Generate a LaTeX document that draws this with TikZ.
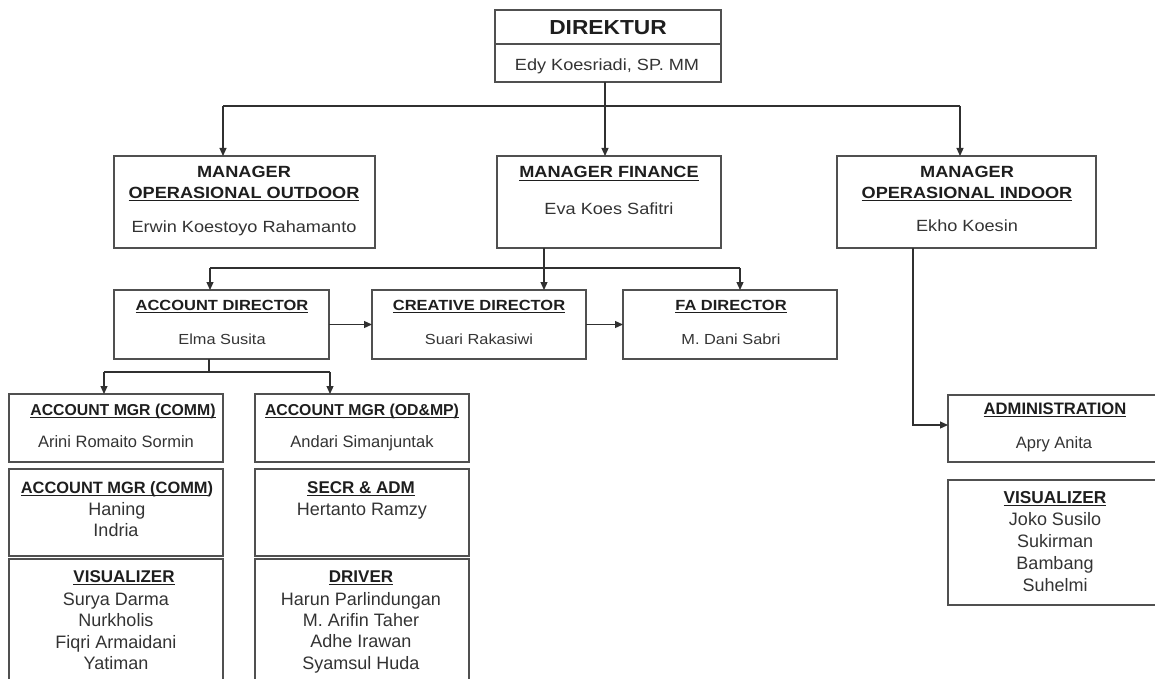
\documentclass[tikz,border=0pt]{standalone}
\usepackage{fontspec}
\setmainfont{Liberation Sans}
\newfontfamily\widefam{Liberation Sans}[FakeStretch=1.12]
\usetikzlibrary{arrows.meta}
\definecolor{boxc}{HTML}{505050}
\definecolor{linec}{HTML}{303030}
\definecolor{txtc}{HTML}{1E1E1E}
\definecolor{namec}{HTML}{333333}
\newcommand\myul[1]{\leavevmode\setbox0=\hbox{#1}\rlap{\vrule width\wd0 height -1.8pt depth 3.2pt}\box0}
\newcommand\mybox[5]{\node[box,minimum width={#4-#2},minimum height={#5-#3}] (#1) at ({(#2+#4)/2},{(#3+#5)/2}) {};}
\begin{document}
\begin{tikzpicture}[x=1pt,y=-1pt,
  box/.style={draw=boxc,line width=1.4pt,inner sep=0pt,outer sep=0pt},
  txt/.style={anchor=base,inner sep=0pt,outer sep=0pt,text=txtc},
  nm/.style={anchor=base,inner sep=0pt,outer sep=0pt,text=namec},
  fDir/.style={font=\widefam\bfseries\fontsize{20.3}{24}\selectfont},
  fDirN/.style={font=\widefam\fontsize{16.2}{19}\selectfont},
  fMgr/.style={font=\widefam\bfseries\fontsize{16.2}{19}\selectfont},
  fMgrN/.style={font=\widefam\fontsize{16.2}{19}\selectfont},
  fDt/.style={font=\widefam\bfseries\fontsize{14.7}{17}\selectfont},
  fDn/.style={font=\widefam\fontsize{14.6}{17}\selectfont},
  fLt/.style={font=\bfseries\fontsize{15.8}{19}\selectfont},
  fLn/.style={font=\fontsize{16.5}{19}\selectfont},
  fBt/.style={font=\bfseries\fontsize{17}{20}\selectfont},
  fBn/.style={font=\fontsize{18}{21}\selectfont},
  ln/.style={draw=linec,line width=1.2pt},
  arr/.style={draw=linec,line width=1.2pt,-{Triangle[length=8pt,width=7pt]}}]
\useasboundingbox (0,0) rectangle (1155,679);
% boxes
\mybox{dirT}{495}{10}{721}{44}
\mybox{dirN}{495}{44}{721}{82}
\mybox{out}{114}{156}{375}{248}
\mybox{fin}{497}{156}{721}{248}
\mybox{ind}{837}{156}{1096}{248}
\mybox{acc}{114}{290}{329}{359}
\mybox{cre}{372}{290}{586}{359}
\mybox{fa}{623}{290}{837}{359}
\mybox{amc}{9}{394}{223}{462}
\mybox{amo}{255}{394}{469}{462}
\mybox{amc2}{9}{469}{223}{556}
\mybox{sec}{255}{469}{469}{556}
\mybox{vis}{9}{559}{223}{700}
\mybox{drv}{255}{559}{469}{700}
\mybox{adm}{948}{395}{1162}{462}
\mybox{vis2}{948}{480}{1162}{605}
% texts
\node[txt,fDir] (tDir) at (608,35) {DIREKTUR};
\node[nm,fDirN] (nDir) at (607,71) {Edy Koesriadi, SP. MM};
\node[txt,fMgr] (tOut1) at (244,177) {MANAGER};
\node[txt,fMgr] (tOut2) at (244,198) {\myul{OPERASIONAL OUTDOOR}};
\node[nm,fMgrN] (nOut) at (244,232) {Erwin Koestoyo Rahamanto};
\node[txt,fMgr] (tFin) at (609,178) {\myul{MANAGER FINANCE}};
\node[nm,fMgrN] (nFin) at (609,214) {Eva Koes Safitri};
\node[txt,fMgr] (tInd1) at (967,177) {MANAGER};
\node[txt,fMgr] (tInd2) at (967,198) {\myul{OPERASIONAL INDOOR}};
\node[nm,fMgrN] (nInd) at (967,231) {Ekho Koesin};
\node[txt,fDt] (tAcc) at (222,310) {\myul{ACCOUNT DIRECTOR}};
\node[nm,fDn] (nAcc) at (222,344) {Elma Susita};
\node[txt,fDt] (tCre) at (479,310) {\myul{CREATIVE DIRECTOR}};
\node[nm,fDn] (nCre) at (479,344) {Suari Rakasiwi};
\node[txt,fDt] (tFa) at (731,310) {\myul{FA DIRECTOR}};
\node[nm,fDn] (nFa) at (731,344) {M. Dani Sabri};
% lower left column
\node[txt,fLt] (tAmc) at (123,415) {\myul{ACCOUNT MGR (COMM)}};
\node[nm,fLn] (nAmc) at (116,447) {Arini Romaito Sormin};
\node[txt,fBt,font=\bfseries\fontsize{16.4}{20}\selectfont] (tAmc2) at (117,493) {\myul{ACCOUNT MGR (COMM}{)}};
\node[nm,fBn] (nAmc2a) at (117,515) {Haning};
\node[nm,fBn] (nAmc2b) at (116,536) {Indria};
\node[txt,fBt] (tVis) at (124,582) {\myul{VISUALIZER}};
\foreach \t [count=\i] in {Surya Darma, Nurkholis, Fiqri Armaidani, Yatiman}
  \node[nm,fBn] (nVis\i) at (116,{584.5+21.2*\i}) {\t};
% lower right column
\node[txt,fLt] (tAmo) at (362,415) {\myul{ACCOUNT MGR (OD\&MP)}};
\node[nm,fLn] (nAmo) at (362,447) {Andari Simanjuntak};
\node[txt,fBt] (tSec) at (361,493) {\myul{SECR \& ADM}};
\node[nm,fBn] (nSec) at (362,515) {Hertanto Ramzy};
\node[txt,fBt] (tDrv) at (361,582) {\myul{DRIVER}};
\foreach \t [count=\i] in {Harun Parlindungan, M. Arifin Taher, Adhe Irawan, Syamsul Huda}
  \node[nm,fBn] (nDrv\i) at (361,{584+21.3*\i}) {\t};
% right side
\node[txt,fLt,font=\bfseries\fontsize{16.6}{20}\selectfont] (tAdm) at (1055,414) {\myul{ADMINISTRATION}};
\node[nm,fLn] (nAdm) at (1054,448) {Apry Anita};
\node[txt,fBt,font=\bfseries\fontsize{17.3}{20}\selectfont] (tVis2) at (1055,503) {\myul{VISUALIZER}};
\foreach \t [count=\i] in {Joko Susilo, Sukirman, Bambang, Suhelmi}
  \node[nm,fBn] (nVisR\i) at (1055,{503.5+21.9*\i}) {\t};
% connectors
\coordinate (j0) at (605,106);
\coordinate (jL) at (223,106);
\coordinate (jR) at (960,106);
\draw[ln] (jL) -- (jR);
\draw[arr] (dirN.south -| j0) -- (j0 |- fin.north);
\draw[arr] (jL) -- (jL |- out.north);
\draw[arr] (jR) -- (jR |- ind.north);
\coordinate (k0) at (544,268);
\coordinate (kL) at (210,268);
\coordinate (kR) at (740,268);
\draw[ln] (kL) -- (kR);
\draw[arr] (fin.south -| k0) -- (k0 |- cre.north);
\draw[arr] (kL) -- (kL |- acc.north);
\draw[arr] (kR) -- (kR |- fa.north);
\draw[arr] (acc.east) -- (cre.west);
\draw[arr] (cre.east) -- (fa.west);
\coordinate (a0) at (209,372);
\coordinate (aL) at (104,372);
\coordinate (aR) at (330,372);
\draw[ln] (acc.south -| a0) -- (a0);
\draw[ln] (aL) -- (aR);
\draw[arr] (aL) -- (aL |- amc.north);
\draw[arr] (aR) -- (aR |- amo.north);
\coordinate (m0) at (913,425);
\draw[arr] (ind.south -| m0) |- (adm.west |- m0);
\end{tikzpicture}
\end{document}
